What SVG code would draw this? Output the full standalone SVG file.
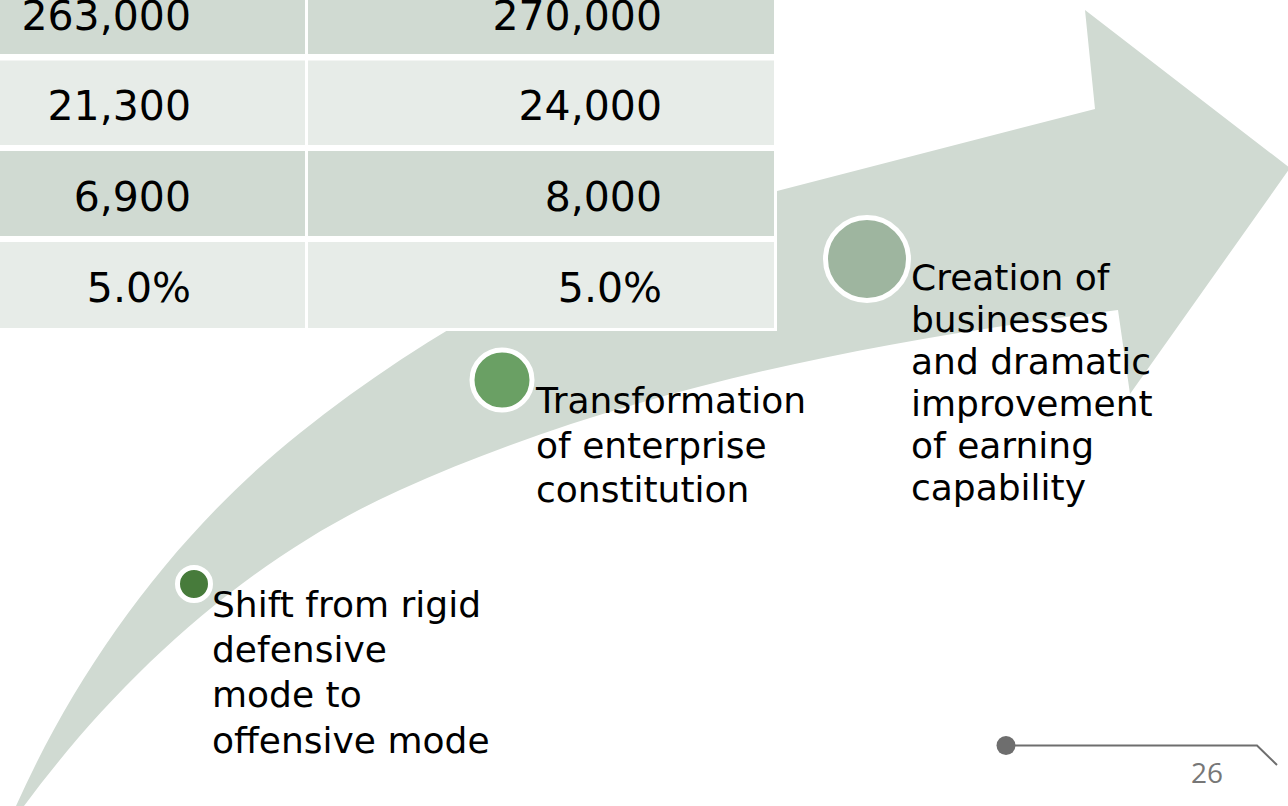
<svg xmlns="http://www.w3.org/2000/svg" width="1288" height="806" viewBox="0 0 1288 806">
  <style>
    .arrow { fill: #D0DAD2; }
    .dark { fill: #D0DAD2; }
    .light { fill: #E7ECE8; }
    .num { font-family: "DejaVu Sans", Verdana, sans-serif; font-size: 41px; fill: #000; text-anchor: end; }
    .label { font-family: "DejaVu Sans", Verdana, sans-serif; font-size: 36px; fill: #000; }
    .ring { stroke: #FFFFFF; stroke-width: 5; }
    .footer { stroke: #6E6E6E; stroke-width: 2; fill: none; }
    .page { font-family: "Open Sans", "Liberation Sans", sans-serif; font-size: 28px; fill: #777777; text-anchor: middle; }
  </style>

  <rect x="0" y="0" width="1288" height="806" fill="#FFFFFF"/>

  <!-- Curved growth arrow -->
  <g id="growth-arrow">
    <path class="arrow" d="M16,806 C80,663 178,530 300,433 C439,322 604,234 777,191 L1095,109 L1085,10 L1290,168 L1130,394 L1118,310 C873,341 625,389 400,490 C250,557 121,675 24,806 Z"/>
  </g>

  <!-- Figures table -->
  <g id="figures-table">
    <rect x="-10" y="-40" width="787" height="371" fill="#FFFFFF"/>
    <rect class="dark" x="-10" y="-31" width="315" height="85"/>
    <rect class="dark" x="308" y="-31" width="466" height="85"/>
    <rect class="light" x="-10" y="60.5" width="315" height="84.5"/>
    <rect class="light" x="308" y="60.5" width="466" height="84.5"/>
    <rect class="dark" x="-10" y="151" width="315" height="85"/>
    <rect class="dark" x="308" y="151" width="466" height="85"/>
    <rect class="light" x="-10" y="242" width="315" height="86"/>
    <rect class="light" x="308" y="242" width="466" height="86"/>
    <text class="num" x="191" y="30">263,000</text>
    <text class="num" x="662" y="30">270,000</text>
    <text class="num" x="191" y="120">21,300</text>
    <text class="num" x="662" y="120">24,000</text>
    <text class="num" x="191" y="211">6,900</text>
    <text class="num" x="662" y="211">8,000</text>
    <text class="num" x="191" y="302">5.0%</text>
    <text class="num" x="662" y="302">5.0%</text>
  </g>

  <!-- Stage 1 -->
  <g id="stage-offensive">
    <circle class="ring" cx="194" cy="584" r="16.5" fill="#477B3B"/>
    <text class="label" x="212">
      <tspan x="212" y="617">Shift from rigid</tspan>
      <tspan x="212" y="662">defensive</tspan>
      <tspan x="212" y="707">mode to</tspan>
      <tspan x="212" y="753">offensive mode</tspan>
    </text>
  </g>

  <!-- Stage 2 -->
  <g id="stage-transformation">
    <circle class="ring" cx="502" cy="380" r="30" fill="#6AA064"/>
    <text class="label">
      <tspan x="536" y="413">Transformation</tspan>
      <tspan x="536" y="458">of enterprise</tspan>
      <tspan x="536" y="502">constitution</tspan>
    </text>
  </g>

  <!-- Stage 3 -->
  <g id="stage-creation">
    <circle class="ring" cx="867" cy="259" r="41.5" fill="#9EB59F"/>
    <text class="label">
      <tspan x="911" y="290">Creation of</tspan>
      <tspan x="911" y="332">businesses</tspan>
      <tspan x="911" y="374">and dramatic</tspan>
      <tspan x="911" y="416">improvement</tspan>
      <tspan x="911" y="458">of earning</tspan>
      <tspan x="911" y="500">capability</tspan>
    </text>
  </g>

  <!-- Page footer -->
  <g id="page-footer">
    <circle cx="1006" cy="745.5" r="9.5" fill="#6E6E6E"/>
    <polyline class="footer" points="1006,745.5 1257,745.5 1277,765"/>
    <text class="page" x="1207" y="783">26</text>
  </g>
</svg>
